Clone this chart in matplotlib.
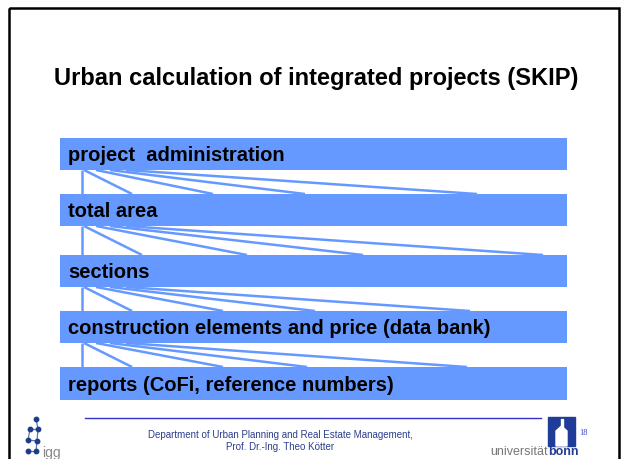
import matplotlib
matplotlib.use("Agg")
import matplotlib.pyplot as plt
from matplotlib.patches import Rectangle, Polygon

# ---- content -------------------------------------------------------------
title = "Urban calculation of integrated projects (SKIP)"
categories = [
    "project  administration",
    "total area",
    "sections",
    "construction elements and price (data bank)",
    "reports (CoFi, reference numbers)",
]
bar_tops = [139, 195, 256, 312, 368]          # top edge of each band (px)
bar_bottoms = [171, 227, 288, 344, 401]       # bottom edge of each band (px)
# x positions where the fan lines of each gap reach the next band
fan_ends = [
    [132, 213, 305, 477],
    [142, 247, 363, 543],
    [132, 223, 315, 470],
    [132, 223, 307, 467],
]
fan_starts = [84, 96, 110, 126]
footer_lines = ["Department of Urban Planning and Real Estate Management,",
                "Prof. Dr.-Ing. Theo Kötter"]
page_number = "18"

BLUE = "#6699FF"
W, H = 624, 460

fig = plt.figure(figsize=(W / 100, H / 100), dpi=100)
ax = fig.add_axes([0, 0, 1, 1])
ax.set_xlim(0, W)
ax.set_ylim(H, 0)
ax.axis("off")

# slide frame
ax.add_patch(Rectangle((9, 9), 610, 460, fill=False, edgecolor="black",
                       linewidth=1.8, zorder=5))

# title
ax.text(316, 78, title, ha="center", va="center", fontsize=17,
        fontweight="bold", family="Liberation Sans", color="black")

# bands
left, right = 60, 567
for lab, t, b in zip(categories, bar_tops, bar_bottoms):
    ax.barh((t + b) / 2, right - left, left=left, height=b - t,
            color=BLUE, edgecolor="none", zorder=2)
    ax.text(left + 8, (t + b) / 2 + 1, lab, ha="left", va="center",
            fontsize=14.5, fontweight="bold", family="Liberation Sans",
            color="black", zorder=4)

# connectors between bands
for i, ends in enumerate(fan_ends):
    y0 = bar_bottoms[i]
    y1 = bar_tops[i + 1]
    ax.plot([82, 82], [y0, y1], color=BLUE, lw=1.8, zorder=1,
            solid_capstyle="butt")
    for xs, xe in zip(fan_starts, ends):
        ax.plot([xs, xe], [y0, y1], color=BLUE, lw=1.8, zorder=1,
                solid_capstyle="butt")

# footer rule
ax.plot([85, 541], [419, 419], color="#3333CC", lw=1.0)

# footer text
ax.text(280, 435, footer_lines[0], ha="center", va="center", fontsize=7,
        family="Liberation Sans", color="#2B3F8C")
ax.text(280, 447, footer_lines[1], ha="center", va="center", fontsize=7,
        family="Liberation Sans", color="#2B3F8C")

# igg logo (network of dots)
pts = [(36, 420), (30, 430), (38, 430), (28, 441), (37, 442), (28, 452), (36, 452)]
links = [(0, 2), (1, 2), (2, 4), (3, 4), (4, 6), (5, 6), (1, 3)]
for a, b in links:
    ax.plot([pts[a][0], pts[b][0]], [pts[a][1], pts[b][1]], color="#5577BB",
            lw=0.9, zorder=3)
for x, y in pts:
    ax.plot(x, y, "o", color="#1F3C88", ms=3.2, zorder=4)
ax.text(42, 453, "igg", ha="left", va="center", fontsize=10,
        family="Liberation Sans", color="#888888")

# universität bonn logo
ax.add_patch(Rectangle((548, 418), 27, 29, color="#1F3C99", zorder=3))
ax.add_patch(Polygon([(556, 447), (556, 432), (561.5, 427), (567, 432), (567, 447)],
                     closed=True, color="white", zorder=4))
ax.add_patch(Rectangle((560.5, 420), 2, 8, color="white", zorder=4))
ax.text(548, 452, "universität", ha="right", va="center", fontsize=9,
        family="Liberation Sans", color="#777777", zorder=5)
ax.text(548, 452, "bonn", ha="left", va="center", fontsize=9,
        fontweight="bold", family="Liberation Sans", color="#1F3C99", zorder=5)
ax.text(579, 433, page_number, ha="left", va="center", fontsize=6,
        family="Liberation Serif", color="#3344CC")

fig.savefig("out.png", dpi=100)
